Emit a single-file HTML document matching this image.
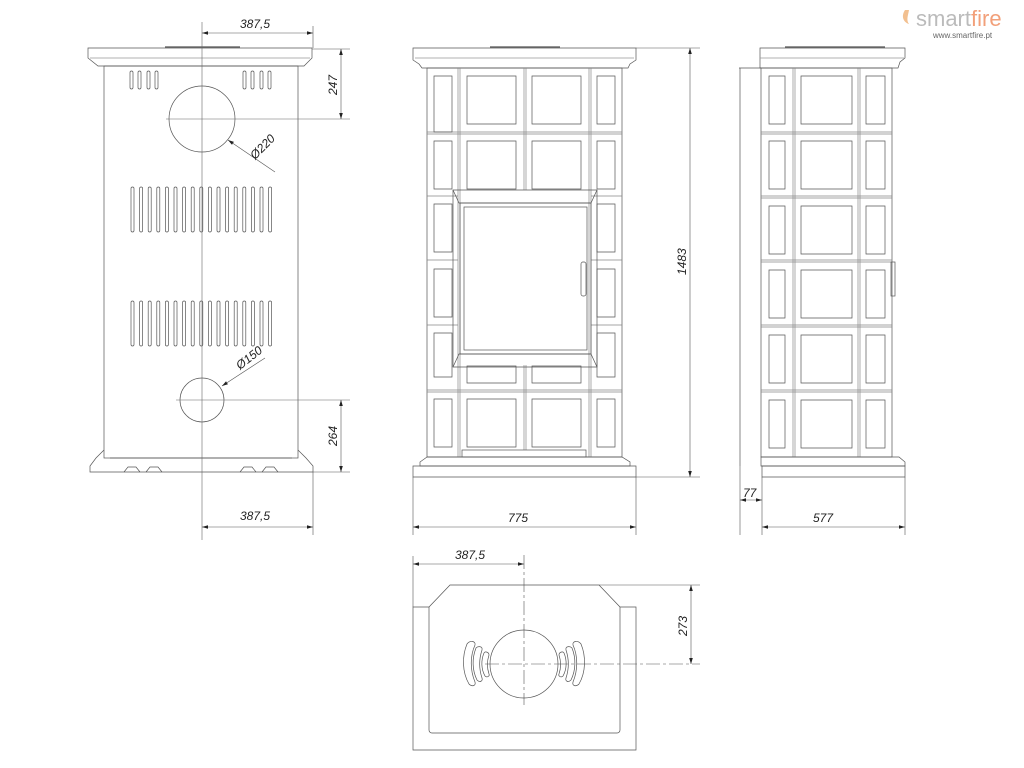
<!DOCTYPE html>
<html><head><meta charset="utf-8"><style>
html,body{margin:0;padding:0;background:#fff;}
svg{display:block;}
text{font-family:"Liberation Sans",sans-serif;font-size:12px;fill:#222;font-style:italic;}
</style></head><body>
<svg width="1024" height="768" viewBox="0 0 1024 768" xmlns="http://www.w3.org/2000/svg">
<defs>
<marker id="a" viewBox="0 0 10 6" refX="10" refY="3" markerWidth="10" markerHeight="6" orient="auto-start-reverse"><path d="M0,0L10,3L0,6z" fill="#222"/></marker>
</defs>
<g fill="none" stroke="#555" stroke-width="0.7">
<!-- BACK VIEW -->
<path d="M88,48H312V58L304,66H98L88,58Z"/>
<line x1="90" y1="58" x2="310" y2="58" stroke="#999"/>
<line x1="165" y1="47" x2="240" y2="47" stroke-width="1.2"/>
<rect x="104" y="66" width="194" height="392"/>
<path d="M104,450L96,458L90,466V472H313V466L306,458L298,450"/>
<line x1="110" y1="458" x2="292" y2="458"/>
<path d="M124,472l4,-5h8l4,5M146,472l4,-5h8l4,5M240,472l4,-5h8l4,5M262,472l4,-5h8l4,5"/>
<circle cx="202" cy="119" r="33"/>
<circle cx="202" cy="400" r="22"/>
<g>
<rect x="130" y="71" width="3" height="18" rx="1.5"/><rect x="138" y="71" width="3" height="18" rx="1.5"/><rect x="147" y="71" width="3" height="18" rx="1.5"/><rect x="155" y="71" width="3" height="18" rx="1.5"/>
<rect x="243" y="71" width="3" height="18" rx="1.5"/><rect x="251" y="71" width="3" height="18" rx="1.5"/><rect x="260" y="71" width="3" height="18" rx="1.5"/><rect x="268" y="71" width="3" height="18" rx="1.5"/>
</g>
<g id="sl">
<rect x="131" y="187" width="3" height="45" rx="1.5"/><rect x="139.6" y="187" width="3" height="45" rx="1.5"/><rect x="148.2" y="187" width="3" height="45" rx="1.5"/><rect x="156.8" y="187" width="3" height="45" rx="1.5"/><rect x="165.4" y="187" width="3" height="45" rx="1.5"/><rect x="174" y="187" width="3" height="45" rx="1.5"/><rect x="182.6" y="187" width="3" height="45" rx="1.5"/><rect x="191.2" y="187" width="3" height="45" rx="1.5"/><rect x="199.8" y="187" width="3" height="45" rx="1.5"/><rect x="208.4" y="187" width="3" height="45" rx="1.5"/><rect x="217" y="187" width="3" height="45" rx="1.5"/><rect x="225.6" y="187" width="3" height="45" rx="1.5"/><rect x="234.2" y="187" width="3" height="45" rx="1.5"/><rect x="242.8" y="187" width="3" height="45" rx="1.5"/><rect x="251.4" y="187" width="3" height="45" rx="1.5"/><rect x="260" y="187" width="3" height="45" rx="1.5"/><rect x="268.6" y="187" width="3" height="45" rx="1.5"/>
</g>
<use href="#sl" y="114"/>
<!-- back dims -->
<line x1="202" y1="22" x2="202" y2="540" stroke="#666" stroke-width="0.6"/>
<line x1="166" y1="119" x2="350" y2="119" stroke="#666" stroke-width="0.6"/>
<line x1="176" y1="400" x2="350" y2="400" stroke="#666" stroke-width="0.6"/>
<line x1="313" y1="26" x2="313" y2="48" stroke-width="0.6"/>
<line x1="313" y1="472" x2="313" y2="535" stroke-width="0.6"/>
<line x1="312" y1="49" x2="350" y2="49" stroke-width="0.6"/>
<line x1="313" y1="472" x2="350" y2="472" stroke-width="0.6"/>
<line x1="202" y1="33" x2="313" y2="33" marker-start="url(#a)" marker-end="url(#a)" stroke-width="0.6"/>
<line x1="202" y1="527" x2="313" y2="527" marker-start="url(#a)" marker-end="url(#a)" stroke-width="0.6"/>
<line x1="341" y1="49" x2="341" y2="119" marker-start="url(#a)" marker-end="url(#a)" stroke-width="0.6"/>
<line x1="341" y1="400" x2="341" y2="472" marker-start="url(#a)" marker-end="url(#a)" stroke-width="0.6"/>
<line x1="275" y1="172" x2="228" y2="140" marker-end="url(#a)" stroke-width="0.6"/>
<line x1="265" y1="358" x2="222" y2="386" marker-end="url(#a)" stroke-width="0.6"/>

<!-- FRONT VIEW -->
<path d="M413,48H636V60L630,64L628,68H422L419,64L413,60Z"/>
<line x1="415" y1="58" x2="634" y2="58" stroke="#999"/>
<line x1="490" y1="47" x2="560" y2="47" stroke-width="1.2"/>
<rect x="427" y="68" width="195" height="389"/>
<g stroke="#888">
<line x1="458" y1="68" x2="458" y2="457"/><line x1="460" y1="68" x2="460" y2="457"/>
<line x1="524" y1="68" x2="524" y2="190"/><line x1="526" y1="68" x2="526" y2="190"/>
<line x1="524" y1="365" x2="524" y2="450"/><line x1="526" y1="365" x2="526" y2="450"/>
<line x1="589" y1="68" x2="589" y2="457"/><line x1="591" y1="68" x2="591" y2="457"/>
<path d="M427,132H622M427,134H622M427,196H458M591,196H622M427,260H458M591,260H622M427,325H458M591,325H622M427,390H622M427,392H622"/>
</g>
<path d="M434,76h18v56h-18zM467,76h49v48h-49zM532,76h49v48h-49zM597,76h18v48h-18zM434,141h18v48h-18zM467,141h49v48h-49zM532,141h49v48h-49zM597,141h18v48h-18zM434,204h18v48h-18zM597,204h18v48h-18zM434,269h18v48h-18zM597,269h18v48h-18zM434,333h18v44h-18zM597,333h18v44h-18zM467,366h49v17h-49zM532,366h49v17h-49zM434,399h18v48h-18zM467,399h49v48h-49zM532,399h49v48h-49zM597,399h18v48h-18z"/>
<path d="M453,190H597V367H453Z"/>
<path d="M453,190l6,13H591l6,-13M453,367l6,-13H591l6,13"/>
<rect x="460" y="203" width="131" height="151"/>
<rect x="464" y="207" width="123" height="143"/>
<rect x="581" y="262" width="5" height="34" rx="2"/>
<rect x="462" y="450" width="124" height="7"/>
<path d="M427,457L420,462V466H630V462L622,457Z"/>
<path d="M413,466H636V477H413Z"/>
<line x1="413" y1="477" x2="413" y2="535" stroke-width="0.6"/>
<line x1="636" y1="477" x2="636" y2="535" stroke-width="0.6"/>
<line x1="636" y1="48" x2="700" y2="48" stroke-width="0.6"/>
<line x1="636" y1="477" x2="700" y2="477" stroke-width="0.6"/>
<line x1="690" y1="48" x2="690" y2="477" marker-start="url(#a)" marker-end="url(#a)" stroke-width="0.6"/>
<line x1="413" y1="527" x2="636" y2="527" marker-start="url(#a)" marker-end="url(#a)" stroke-width="0.6"/>

<!-- SIDE VIEW -->
<path d="M760,48H905V58L900,62L898,68H760Z"/>
<line x1="760" y1="58" x2="904" y2="58" stroke="#999"/>
<line x1="785" y1="47" x2="885" y2="47" stroke-width="1.2"/>
<rect x="761" y="68" width="131" height="389"/>
<path d="M739,68H761M740,68V466"/>
<g stroke="#888">
<line x1="793" y1="68" x2="793" y2="457"/><line x1="795" y1="68" x2="795" y2="457"/>
<line x1="858" y1="68" x2="858" y2="457"/><line x1="860" y1="68" x2="860" y2="457"/>
<path d="M761,132H892M761,134H892M761,196H892M761,198H892M761,260H892M761,262H892M761,325H892M761,327H892M761,390H892M761,392H892"/>
</g>
<path d="M769,76h16v48h-16zM801,76h51v48h-51zM866,76h19v48h-19zM769,141h16v48h-16zM801,141h51v48h-51zM866,141h19v48h-19zM769,206h16v48h-16zM801,206h51v48h-51zM866,206h19v48h-19zM769,270h16v48h-16zM801,270h51v48h-51zM866,270h19v48h-19zM769,335h16v48h-16zM801,335h51v48h-51zM866,335h19v48h-19zM769,400h16v48h-16zM801,400h51v48h-51zM866,400h19v48h-19z"/>
<rect x="891" y="262" width="4" height="34"/>
<path d="M761,457V466H905V462L899,457Z"/>
<path d="M762,466H905V477H762Z"/>
<line x1="740" y1="466" x2="740" y2="535" stroke-width="0.6"/>
<line x1="762" y1="477" x2="762" y2="535" stroke-width="0.6"/>
<line x1="905" y1="477" x2="905" y2="535" stroke-width="0.6"/>
<line x1="740" y1="500" x2="762" y2="500" marker-start="url(#a)" marker-end="url(#a)" stroke-width="0.6"/>
<line x1="762" y1="527" x2="905" y2="527" marker-start="url(#a)" marker-end="url(#a)" stroke-width="0.6"/>

<!-- TOP VIEW -->
<path d="M413,607H429L450,585H599L620,607H636V750H413Z"/>
<line x1="599" y1="585" x2="700" y2="585" stroke-width="0.6"/>
<path d="M429,607V730a3,3 0 0 0 3,3H617a3,3 0 0 0 3,-3V607"/>
<circle cx="524" cy="664" r="34"/>
<path d="M467,644c-5,12 -5,28 2,40c3,3 7,2 6,-2c-5,-12 -5,-26 0,-37c1,-4 -5,-5 -8,-1z"/>
<path d="M476,648c-4,10 -4,22 1,32c3,3 6,1 5,-2c-3,-9 -3,-19 0,-28c1,-4 -4,-4 -6,-2z"/>
<path d="M484,653c-3,7 -3,16 1,23c2,2 5,0 4,-2c-2,-6 -2,-13 0,-19c0,-3 -4,-4 -5,-2z"/>
<path d="M581,644c5,12 5,28 -2,40c-3,3 -7,2 -6,-2c5,-12 5,-26 0,-37c-1,-4 5,-5 8,-1z"/>
<path d="M572,648c4,10 4,22 -1,32c-3,3 -6,1 -5,-2c3,-9 3,-19 0,-28c-1,-4 4,-4 6,-2z"/>
<path d="M564,653c3,7 3,16 -1,23c-2,2 -5,0 -4,-2c2,-6 2,-13 0,-19c0,-3 4,-4 5,-2z"/>
<line x1="524" y1="555" x2="524" y2="705" stroke-dasharray="14,3,3,3" stroke-width="0.6"/>
<line x1="485" y1="664" x2="700" y2="664" stroke-dasharray="14,3,3,3" stroke-width="0.6"/>
<line x1="413" y1="556" x2="413" y2="607" stroke-width="0.6"/>
<line x1="413" y1="564" x2="524" y2="564" marker-start="url(#a)" marker-end="url(#a)" stroke-width="0.6"/>
<line x1="691" y1="585" x2="691" y2="664" marker-start="url(#a)" marker-end="url(#a)" stroke-width="0.6"/>
</g>
<!-- labels -->
<text x="240" y="28">387,5</text>
<text x="240" y="520">387,5</text>
<text x="455" y="559">387,5</text>
<text x="508" y="522">775</text>
<text x="813" y="522">577</text>
<text x="743" y="497">77</text>
<text transform="translate(337,95) rotate(-90)">247</text>
<text transform="translate(337,446) rotate(-90)">264</text>
<text transform="translate(686,275) rotate(-90)">1483</text>
<text transform="translate(687,636) rotate(-90)">273</text>
<text transform="translate(255,160) rotate(-45)">Ø220</text>
<text transform="translate(240,370) rotate(-38)">Ø150</text>
<text x="916" y="26" style="font-size:22px;fill:#bbb;font-style:normal;">smart<tspan fill="#f2a07a">fire</tspan></text>
<path d="M905,10c-4,6 -2,12 4,14c-3,-4 -1,-8 0,-14z" fill="#f2c090"/>
<text x="933" y="38" style="font-size:8px;fill:#666;font-style:normal;">www.smartfire.pt</text>
</svg>
</body></html>
